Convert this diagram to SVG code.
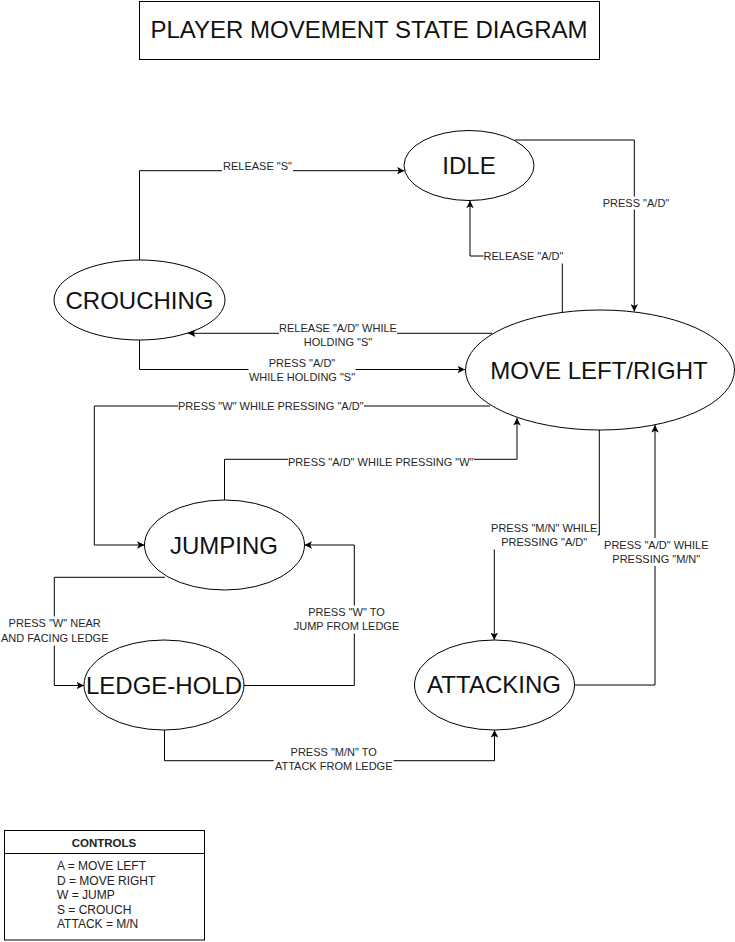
<svg xmlns="http://www.w3.org/2000/svg" width="735" height="942" viewBox="0 0 735 942">
<style>
.node{fill:#fff;stroke:#000;stroke-width:1}
.ntxt{font-family:"Liberation Sans",Arial,sans-serif;font-size:24px;fill:#111;text-anchor:middle}
.edge{fill:none;stroke:#000;stroke-width:1;marker-end:url(#arrow)}
.lbg{fill:#fff;stroke:none}
.ltxt{font-family:"Liberation Sans",Arial,sans-serif;font-size:11px;fill:#262626;text-anchor:middle}
.box{fill:#fff;stroke:#000;stroke-width:1}
</style>
<defs>
<marker id="arrow" viewBox="0 0 10 10" refX="10" refY="5" markerWidth="7.5" markerHeight="7.5" markerUnits="userSpaceOnUse" orient="auto">
<path d="M0,0 L10,5 L0,10 L2.5,5 Z" fill="#000"/>
</marker>
</defs>
<rect width="735" height="942" fill="#fff"/>
<g id="title">
<rect class="box" x="139.5" y="1.5" width="460" height="58"/>
<text x="369" y="38" style="font-family:'Liberation Sans',Arial,sans-serif;font-size:24px;fill:#111;text-anchor:middle">PLAYER MOVEMENT STATE DIAGRAM</text>
</g>
<g id="node-idle">
<ellipse class="node" cx="469" cy="165.5" rx="65" ry="35"/>
<text class="ntxt" x="469" y="173.5">IDLE</text>
</g>
<g id="node-crouching">
<ellipse class="node" cx="139.5" cy="300" rx="85.5" ry="40"/>
<text class="ntxt" x="139.5" y="308.5">CROUCHING</text>
</g>
<g id="node-move">
<ellipse class="node" cx="600" cy="370" rx="134.5" ry="60"/>
<text class="ntxt" x="599" y="378.5">MOVE LEFT/RIGHT</text>
</g>
<g id="node-jumping">
<ellipse class="node" cx="224.5" cy="545" rx="80" ry="45"/>
<text class="ntxt" x="224" y="553.5">JUMPING</text>
</g>
<g id="node-ledgehold">
<ellipse class="node" cx="164" cy="685" rx="80" ry="45"/>
<text class="ntxt" x="164" y="693.5">LEDGE-HOLD</text>
</g>
<g id="node-attacking">
<ellipse class="node" cx="494.5" cy="685" rx="80" ry="45"/>
<text class="ntxt" x="494" y="693">ATTACKING</text>
</g>
<g id="connectors">
<path class="edge" d="M139.5,260 V170.7 H404.5"/>
<path class="edge" d="M515,140 H634.3 V311.5"/>
<path class="edge" d="M562.3,312.4 V256 H470 V200.7"/>
<path class="edge" d="M492,333.3 H188"/>
<path class="edge" d="M139.5,340 V369.5 H465"/>
<path class="edge" d="M490,406 H94.3 V545 H144.5"/>
<path class="edge" d="M224.5,500 V459.3 H517 V418"/>
<path class="edge" d="M165,577.3 H54.3 V685.5 H84"/>
<path class="edge" d="M244,685.5 H354.3 V545 H304.5"/>
<path class="edge" d="M164.5,730 V760.7 H494.5 V730"/>
<path class="edge" d="M599.3,430 V535 H494.3 V640"/>
<path class="edge" d="M574.5,685 H655 V425"/>
<rect class="lbg" x="222" y="159" width="71" height="14"/>
<text class="ltxt" x="257.5" y="169.5">RELEASE "S"</text>
<rect class="lbg" x="602.5" y="196.5" width="67" height="13"/>
<text class="ltxt" x="636" y="206.7">PRESS "A/D"</text>
<rect class="lbg" x="483.5" y="249.5" width="80" height="14"/>
<text class="ltxt" x="523.5" y="260">RELEASE "A/D"</text>
<rect class="lbg" x="279" y="321.5" width="118" height="28"/>
<text class="ltxt" x="338" y="332.3">RELEASE "A/D" WHILE</text>
<text class="ltxt" x="338" y="346">HOLDING "S"</text>
<rect class="lbg" x="248.5" y="356" width="107" height="28"/>
<text class="ltxt" x="302" y="366.7">PRESS "A/D"</text>
<text class="ltxt" x="302" y="380.7">WHILE HOLDING "S"</text>
<rect class="lbg" x="178" y="399" width="186" height="14"/>
<text class="ltxt" x="270.8" y="409.5">PRESS "W" WHILE PRESSING "A/D"</text>
<rect class="lbg" x="288" y="455.5" width="186" height="14"/>
<text class="ltxt" x="380.8" y="466">PRESS "A/D" WHILE PRESSING "W"</text>
<rect class="lbg" x="0.5" y="616.5" width="109" height="29"/>
<text class="ltxt" x="54.7" y="627.3">PRESS "W" NEAR</text>
<text class="ltxt" x="54.7" y="642">AND FACING LEDGE</text>
<rect class="lbg" x="293.5" y="605.5" width="106" height="28"/>
<text class="ltxt" x="346.5" y="616">PRESS "W" TO</text>
<text class="ltxt" x="346.5" y="630.3">JUMP FROM LEDGE</text>
<rect class="lbg" x="273.7" y="745.5" width="120" height="28"/>
<text class="ltxt" x="333.7" y="756">PRESS "M/N" TO</text>
<text class="ltxt" x="333.7" y="770.3">ATTACK FROM LEDGE</text>
<rect class="lbg" x="490.7" y="521.5" width="107" height="28"/>
<text class="ltxt" x="544.2" y="532.3">PRESS "M/N" WHILE</text>
<text class="ltxt" x="544.2" y="546">PRESSING "A/D"</text>
<rect class="lbg" x="603.8" y="538" width="105" height="28"/>
<text class="ltxt" x="656.3" y="549">PRESS "A/D" WHILE</text>
<text class="ltxt" x="656.3" y="562.7">PRESSING "M/N"</text>
</g>
<g id="legend">
<rect class="box" x="4.5" y="830.5" width="200" height="109.5"/>
<line x1="4.5" y1="853.5" x2="204.5" y2="853.5" stroke="#000" stroke-width="1"/>
<text x="104" y="846.5" style="font-family:'Liberation Sans',Arial,sans-serif;font-size:11.5px;font-weight:bold;fill:#222;text-anchor:middle">CONTROLS</text>
<g style="font-family:'Liberation Sans',Arial,sans-serif;font-size:12px;fill:#222">
<text x="57" y="870">A = MOVE LEFT</text>
<text x="57" y="884.5">D = MOVE RIGHT</text>
<text x="57" y="899">W = JUMP</text>
<text x="57" y="913.5">S = CROUCH</text>
<text x="57" y="928">ATTACK = M/N</text>
</g>
</g>
</svg>
